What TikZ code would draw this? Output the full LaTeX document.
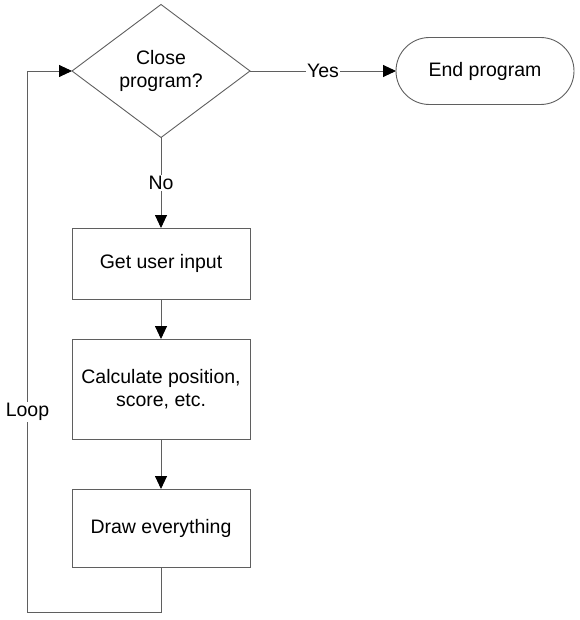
\documentclass[tikz,border=0pt]{standalone}
\usepackage{fontspec}
\setmainfont{Liberation Sans}
\usetikzlibrary{shapes.geometric,shapes.misc,arrows.meta}
\definecolor{linec}{RGB}{95,95,95}
\begin{document}
\begin{tikzpicture}[x=1pt,y=-1pt,
  every node/.style={font=\fontsize{19.5}{23.5}\selectfont, text=black, outer sep=0pt},
  procbox/.style={draw=linec, line width=0.9pt, rectangle, inner sep=0pt, minimum width=178pt, align=center},
  decbox/.style={draw=linec, line width=0.9pt, diamond, aspect=1.338, inner sep=0pt, minimum width=178pt, minimum height=133pt, align=center},
  termbox/.style={draw=linec, line width=0.9pt, rounded rectangle, inner sep=0pt, minimum width=178pt, minimum height=67pt},
  conn/.style={draw=linec, line width=0.9pt},
  arr/.style={conn, -{Triangle[length=13pt,width=12pt,color=black]}},
  lbl/.style={fill=white, inner sep=1pt}
]
\useasboundingbox (0,0) rectangle (579,620);
\node[decbox] (dec) at (161,71) {Close\\program?};
\node[termbox] (end) at (485,71) {End program};
\node[procbox, minimum height=71pt] (inp) at (161,263.5) {Get user input};
\node[procbox, minimum height=100pt] (calc) at (161,389) {Calculate position,\\score, etc.};
\node[procbox, minimum height=78pt] (drw) at (161,528) {Draw everything};
\coordinate (c1) at (161,612);
\coordinate (c2) at (27.5,612);
\coordinate (c3) at (27.5,71);

\draw[arr] (dec.east) -- node[lbl, pos=0.5] {Yes} (end.west);
\draw[arr] (dec.south) -- node[lbl, pos=0.5] {No} (inp.north);
\draw[arr] (inp.south) -- (calc.north);
\draw[arr] (calc.south) -- (drw.north);
\draw[arr] (drw.south) -- (c1) -- (c2) -- node[lbl, pos=0.37] {Loop} (c3) -- (dec.west);
\end{tikzpicture}
\end{document}
